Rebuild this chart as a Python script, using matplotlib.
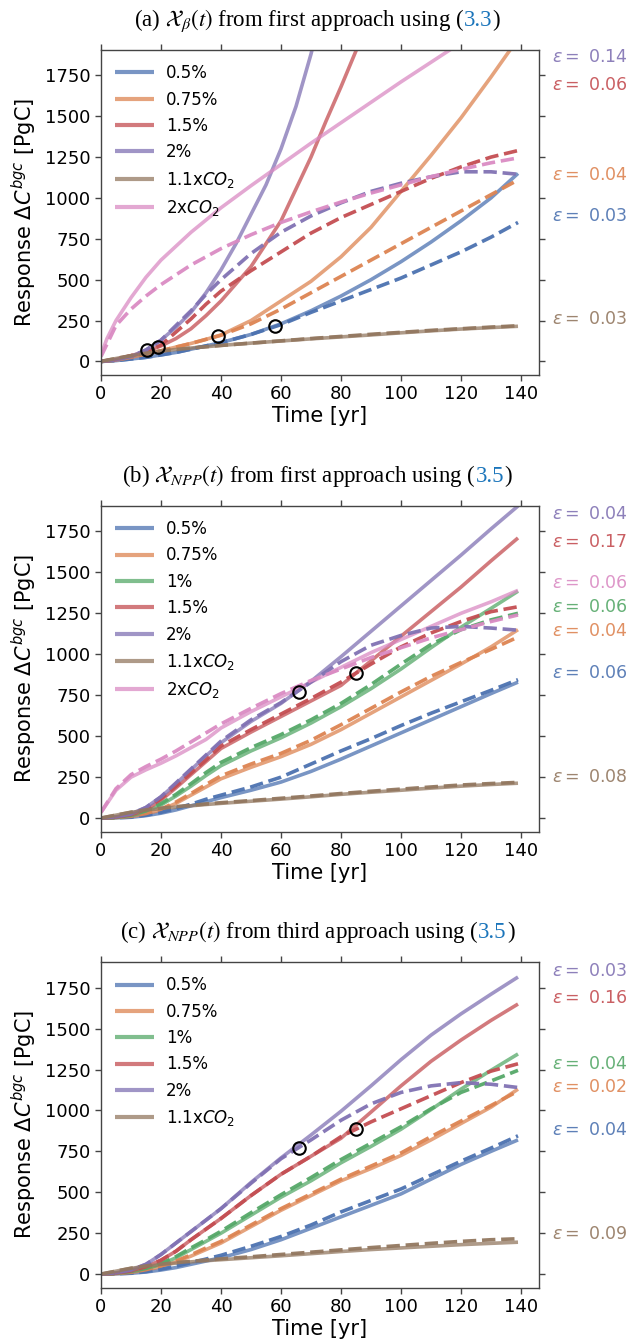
import matplotlib
matplotlib.use("Agg")
import matplotlib.pyplot as plt
import matplotlib.transforms as mtransforms
import numpy as np

# colours (seaborn "deep")
BLUE, ORANGE, GREEN, RED = '#4C72B0', '#DD8452', '#55A868', '#C44E52'
PURPLE, BROWN, PINK = '#8172B3', '#937860', '#DA8BC3'

T = [0, 5, 10, 15, 20, 25, 30, 35, 40, 50, 60, 70, 80, 90, 100, 110, 120, 130, 139]

# ---- panel (a): chi_beta, first approach ----
t_purple_a = [0, 5, 10, 15, 20, 25, 30, 35, 40, 45, 50, 55, 60, 65, 70, 75]
purple_s_a = [0, 10, 30, 70, 130, 210, 300, 420, 560, 720, 900, 1080, 1300, 1560, 1880, 2250]
t_red_a = [0, 5, 10, 15, 20, 25, 30, 35, 40, 50, 60, 70, 75, 80, 85, 90]
red_s_a = [0, 12, 35, 60, 95, 140, 200, 280, 370, 580, 860, 1250, 1470, 1680, 1900, 2130]
t_orange_a = [0, 5, 10, 15, 20, 25, 30, 35, 40, 50, 60, 70, 80, 90, 100, 110, 120, 130, 140]
orange_s_a = [0, 8, 25, 45, 65, 88, 110, 135, 162, 250, 370, 490, 640, 820, 1040, 1260, 1490, 1740, 2000]
t_pink_a = [0, 2, 5, 10, 15, 20, 30, 40, 50, 60, 70, 80, 90, 100, 110, 120]
pink_s_a = [40, 140, 250, 390, 515, 620, 790, 940, 1075, 1205, 1335, 1460, 1585, 1710, 1830, 1950]
blue_s_a = [0, 5, 15, 25, 40, 55, 75, 95, 115, 165, 230, 310, 400, 500, 610, 730, 860, 1000, 1150]
brown_s_a = [0, 18, 35, 50, 63, 73, 82, 90, 98, 112, 125, 138, 150, 162, 175, 187, 198, 207, 215]

blue_d_a = [0, 5, 15, 25, 40, 55, 75, 95, 115, 165, 225, 300, 370, 440, 510, 590, 670, 760, 850]
orange_d_a = [0, 8, 25, 45, 65, 88, 110, 135, 160, 230, 320, 420, 520, 620, 720, 820, 920, 1020, 1110]
red_d_a = [0, 12, 35, 60, 100, 180, 260, 350, 430, 555, 670, 785, 880, 960, 1040, 1120, 1190, 1250, 1290]
purple_d_a = [0, 10, 30, 70, 130, 220, 310, 410, 500, 660, 790, 890, 970, 1040, 1090, 1130, 1160, 1160, 1145]
brown_d_a = [0, 18, 35, 50, 63, 73, 82, 90, 98, 112, 126, 140, 153, 166, 178, 190, 200, 210, 218]
pink_d_a = [30, 220, 320, 400, 470, 530, 590, 640, 690, 775, 850, 915, 975, 1030, 1080, 1130, 1175, 1215, 1245]

circ_t_a = [15.2, 19.1, 39.1, 58.0]
circ_v_a = [72, 88, 157, 214]

# ---- panel (b): chi_NPP, first approach ----
blue_s_b = [0, 2, 5, 15, 30, 50, 75, 100, 125, 170, 220, 285, 360, 440, 520, 600, 680, 760, 830]
orange_s_b = [0, 3, 10, 25, 50, 90, 140, 190, 240, 310, 375, 450, 540, 640, 740, 840, 940, 1045, 1150]
green_s_b = [0, 4, 15, 40, 80, 135, 195, 260, 320, 410, 490, 580, 680, 790, 910, 1040, 1165, 1280, 1385]
red_s_b = [0, 6, 20, 50, 110, 185, 265, 345, 425, 525, 620, 715, 810, 960, 1110, 1260, 1410, 1570, 1710]
purple_s_b = [0, 8, 25, 65, 130, 210, 295, 380, 460, 590, 700, 835, 985, 1140, 1295, 1450, 1605, 1765, 1905]
brown_s_b = [0, 18, 35, 48, 58, 67, 75, 83, 90, 103, 116, 130, 145, 158, 170, 183, 195, 205, 213]
pink_s_b = [35, 170, 250, 295, 335, 380, 430, 480, 550, 650, 740, 830, 920, 1010, 1090, 1170, 1250, 1320, 1390]

blue_d_b = [0, 2, 6, 18, 35, 58, 85, 115, 140, 190, 250, 330, 410, 485, 565, 640, 710, 780, 845]
orange_d_b = [0, 3, 11, 28, 55, 98, 150, 205, 258, 330, 395, 475, 570, 670, 770, 865, 950, 1030, 1105]
green_d_b = [0, 4, 17, 44, 88, 145, 210, 278, 340, 430, 510, 600, 700, 815, 940, 1060, 1150, 1210, 1250]
red_d_b = [0, 6, 22, 55, 118, 195, 275, 355, 440, 540, 635, 730, 830, 940, 1045, 1130, 1200, 1260, 1290]
purple_d_b = [0, 8, 25, 65, 130, 215, 300, 385, 470, 600, 705, 830, 955, 1055, 1115, 1160, 1170, 1160, 1147]
brown_d_b = [0, 18, 36, 50, 60, 70, 78, 86, 94, 107, 121, 135, 150, 164, 177, 190, 202, 211, 218]
pink_d_b = [35, 180, 265, 315, 360, 410, 465, 520, 575, 670, 760, 840, 910, 980, 1040, 1100, 1150, 1200, 1240]

circ_t_b = [66.1, 85.0]
circ_v_b = [769, 888]

# ---- panel (c): chi_NPP, third approach ----
blue_s_c = [0, 2, 5, 13, 25, 40, 60, 80, 100, 150, 210, 280, 350, 420, 490, 580, 670, 750, 820]
orange_s_c = [0, 3, 10, 25, 45, 75, 110, 150, 190, 290, 390, 480, 570, 645, 725, 820, 920, 1020, 1130]
green_s_c = [0, 5, 15, 32, 60, 100, 150, 200, 250, 360, 470, 570, 680, 780, 885, 1005, 1130, 1245, 1345]
red_s_c = [0, 6, 20, 45, 85, 140, 210, 275, 340, 480, 610, 720, 830, 990, 1150, 1300, 1430, 1550, 1650]
purple_s_c = [0, 8, 25, 60, 120, 190, 260, 330, 400, 560, 710, 850, 995, 1150, 1310, 1460, 1590, 1710, 1815]
brown_s_c = [0, 18, 35, 48, 58, 67, 75, 82, 88, 100, 112, 125, 138, 150, 160, 170, 180, 188, 195]

blue_d_c = [0, 2, 6, 15, 30, 48, 70, 92, 115, 170, 230, 300, 380, 450, 520, 605, 690, 770, 845]
orange_d_c = [0, 3, 11, 27, 50, 80, 118, 160, 200, 300, 400, 490, 580, 660, 740, 840, 935, 1030, 1118]
green_d_c = [0, 5, 16, 35, 65, 107, 160, 210, 262, 375, 485, 590, 700, 800, 900, 1010, 1110, 1180, 1245]
red_d_c = [0, 6, 20, 45, 85, 140, 210, 275, 340, 480, 610, 720, 840, 930, 1010, 1090, 1170, 1240, 1285]
purple_d_c = [0, 8, 25, 60, 120, 190, 260, 330, 400, 555, 705, 820, 940, 1040, 1110, 1150, 1170, 1160, 1140]
brown_d_c = [0, 18, 36, 50, 60, 70, 78, 86, 93, 106, 120, 134, 148, 162, 175, 188, 200, 210, 216]

circ_t_c = [66.1, 85.0]
circ_v_c = [768, 886]

# epsilon labels: (value, colour, y position)
eps_a = [('0.14', PURPLE, 1865), ('0.06', RED, 1692), ('0.04', ORANGE, 1143),
         ('0.03', BLUE, 887), ('0.03', BROWN, 261)]
eps_b = [('0.04', PURPLE, 1857), ('0.17', RED, 1688), ('0.06', PINK, 1433),
         ('0.06', GREEN, 1290), ('0.04', ORANGE, 1143), ('0.06', BLUE, 888),
         ('0.08', BROWN, 253)]
eps_c = [('0.03', PURPLE, 1854), ('0.16', RED, 1685), ('0.04', GREEN, 1284),
         ('0.02', ORANGE, 1141), ('0.04', BLUE, 882), ('0.09', BROWN, 248)]

LINK = '#1b75bb'

panel_a = dict(
    solid=[(T, blue_s_a, BLUE, '0.5%'),
           (t_orange_a, orange_s_a, ORANGE, '0.75%'),
           (t_red_a, red_s_a, RED, '1.5%'),
           (t_purple_a, purple_s_a, PURPLE, '2%'),
           (T, brown_s_a, BROWN, '1.1x$CO_2$'),
           (t_pink_a, pink_s_a, PINK, '2x$CO_2$')],
    dashed=[(blue_d_a, BLUE), (orange_d_a, ORANGE), (red_d_a, RED),
            (purple_d_a, PURPLE), (brown_d_a, BROWN), (pink_d_a, PINK)],
    circles=(circ_t_a, circ_v_a), eps=eps_a,
    title=[(r'(a) $\mathcal{X}_\beta(t)$ from first approach using (', 'black'),
           ('3.3', LINK), (')', 'black')])

panel_b = dict(
    solid=[(T, blue_s_b, BLUE, '0.5%'), (T, orange_s_b, ORANGE, '0.75%'),
           (T, green_s_b, GREEN, '1%'), (T, red_s_b, RED, '1.5%'),
           (T, purple_s_b, PURPLE, '2%'), (T, brown_s_b, BROWN, '1.1x$CO_2$'),
           (T, pink_s_b, PINK, '2x$CO_2$')],
    dashed=[(blue_d_b, BLUE), (orange_d_b, ORANGE), (green_d_b, GREEN),
            (red_d_b, RED), (purple_d_b, PURPLE), (brown_d_b, BROWN),
            (pink_d_b, PINK)],
    circles=(circ_t_b, circ_v_b), eps=eps_b,
    title=[(r'(b) $\mathcal{X}_{NPP}(t)$ from first approach using (', 'black'),
           ('3.5', LINK), (')', 'black')])

panel_c = dict(
    solid=[(T, blue_s_c, BLUE, '0.5%'), (T, orange_s_c, ORANGE, '0.75%'),
           (T, green_s_c, GREEN, '1%'), (T, red_s_c, RED, '1.5%'),
           (T, purple_s_c, PURPLE, '2%'), (T, brown_s_c, BROWN, '1.1x$CO_2$')],
    dashed=[(blue_d_c, BLUE), (orange_d_c, ORANGE), (green_d_c, GREEN),
            (red_d_c, RED), (purple_d_c, PURPLE), (brown_d_c, BROWN)],
    circles=(circ_t_c, circ_v_c), eps=eps_c,
    title=[(r'(c) $\mathcal{X}_{NPP}(t)$ from third approach using (', 'black'),
           ('3.5', LINK), (')', 'black')])

W, H = 634, 1344
fig = plt.figure(figsize=(W / 100, H / 100), dpi=100)
renderer = fig.canvas.get_renderer()

# axes boxes in pixels: (top, bottom)
boxes = [(50, 375), (506, 831.7), (962.3, 1287.7)]
left_px, right_px = 101, 539


def draw_title(parts, y_px):
    texts, widths = [], []
    for s, c in parts:
        t = fig.text(0, 1 - y_px / H, s, color=c, fontsize=16.5,
                     family='Liberation Serif', math_fontfamily='stix',
                     va='baseline', ha='left')
        texts.append(t)
        widths.append(t.get_window_extent(renderer).width)
    x = W / 2 - sum(widths) / 2
    for t, w in zip(texts, widths):
        t.set_x(x / W)
        x += w


for p, (top, bot) in zip([panel_a, panel_b, panel_c], boxes):
    ax = fig.add_axes([left_px / W, 1 - bot / H, (right_px - left_px) / W, (bot - top) / H])
    for t, v, c, lab in p['solid']:
        ax.plot(t, v, color=c, lw=2.6, alpha=0.75, label=lab, solid_capstyle='butt')
    for v, c in p['dashed']:
        ax.plot(T, v, color=c, lw=2.6, ls='--', alpha=0.95)
    ax.plot(p['circles'][0], p['circles'][1], 'o', ms=9, mfc='none', mec='black', mew=1.5)

    ax.set_xlim(0, 146)
    ax.set_ylim(-83, 1905)
    ax.set_xticks(range(0, 141, 20))
    ax.set_yticks(range(0, 1751, 250))
    ax.tick_params(direction='out', length=4, width=1, top=True, right=True,
                   labelsize=13, color='#444444', labelcolor='black')
    for s in ax.spines.values():
        s.set_color('#444444')
        s.set_linewidth(1)
    ax.set_xlabel('Time [yr]', fontsize=15, labelpad=2)
    ax.set_ylabel(r'Response $\Delta C^{bgc}$ [PgC]', fontsize=15, labelpad=4)

    leg = ax.legend(loc='upper left', frameon=False, fontsize=12,
                    handlelength=2.3, handletextpad=0.75, labelspacing=0.5,
                    borderaxespad=0.45)
    for line in leg.get_lines():
        line.set_linewidth(3)

    tr = mtransforms.blended_transform_factory(ax.transAxes, ax.transData)
    for val, c, y in p['eps']:
        ax.text(1.03, y, r'$\varepsilon =$ ' + val, color=c, alpha=0.9,
                fontsize=12.5, transform=tr, va='center', ha='left')

    draw_title(p['title'], top - 24)

fig.savefig('out.png', dpi=100)
